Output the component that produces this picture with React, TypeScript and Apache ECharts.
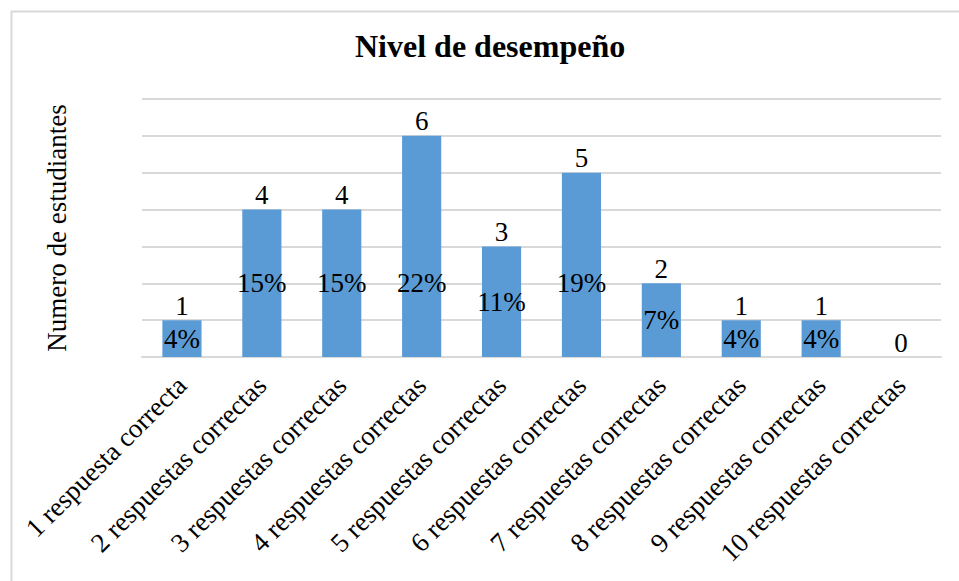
import React, { useEffect, useRef } from "react";
import * as echarts from "echarts";

// Chart data
const categories = [
  "1 respuesta correcta",
  "2 respuestas correctas",
  "3 respuestas correctas",
  "4 respuestas correctas",
  "5 respuestas correctas",
  "6 respuestas correctas",
  "7 respuestas correctas",
  "8 respuestas correctas",
  "9 respuestas correctas",
  "10 respuestas correctas",
];
const students = [1, 4, 4, 6, 3, 5, 2, 1, 1, 0];
const yTicks = [0, 1, 2, 3, 4, 5, 6, 7];

const titleText = "Nivel de desempeño";
const yAxisName = "Numero de estudiantes";

const FONT = "'Liberation Serif', 'Times New Roman', serif";
const BAR_COLOR = "#5B9BD5";
const GRID_COLOR = "#d9d9d9";

export default function App() {
  const ref = useRef<HTMLDivElement>(null);

  useEffect(() => {
    if (!ref.current) return;
    const chart = echarts.init(ref.current, undefined, { renderer: "svg" });
    const total = students.reduce((a, b) => a + b, 0);

    // percentage labels sit at the middle of the bar, no higher than the 2 line
    const pctData = students.map((v) => {
      const frac = v > 0 ? 1 - Math.min(v, 4) / (2 * v) : 0.5;
      return {
        value: v,
        label: {
          position: ["50%", `${(frac * 100).toFixed(2)}%`],
        },
      };
    });

    chart.setOption({
      animation: false,
      backgroundColor: "#ffffff",
      title: {
        text: titleText,
        left: 355,
        top: 30,
        padding: 0,
        textStyle: {
          fontFamily: FONT,
          fontWeight: "bold",
          fontSize: 32,
          color: "#000000",
        },
      },
      graphic: [
        {
          type: "rect",
          left: 9,
          top: 9,
          shape: { x: 0, y: 0, width: 980, height: 600 },
          style: { fill: "none", stroke: GRID_COLOR, lineWidth: 2 },
          silent: true,
        },
      ],
      grid: {
        left: 142,
        right: 18,
        top: 99,
        bottom: 224,
        containLabel: false,
      },
      xAxis: {
        type: "category",
        data: categories,
        axisLine: { show: true, lineStyle: { color: GRID_COLOR, width: 2 } },
        axisTick: { show: false },
        axisLabel: {
          rotate: 45,
          interval: 0,
          margin: 24,
          fontFamily: FONT,
          fontSize: 27,
          color: "#000000",
        },
      },
      yAxis: {
        type: "value",
        min: yTicks[0],
        max: yTicks[yTicks.length - 1],
        interval: 1,
        name: yAxisName,
        nameLocation: "middle",
        nameGap: 72,
        nameTextStyle: {
          fontFamily: FONT,
          fontSize: 27,
          color: "#000000",
        },
        axisLine: { show: false },
        axisTick: { show: false },
        axisLabel: { show: false },
        splitLine: { show: true, lineStyle: { color: GRID_COLOR, width: 2 } },
      },
      series: [
        {
          type: "bar",
          data: students,
          barCategoryGap: "51%",
          itemStyle: { color: BAR_COLOR },
          label: {
            show: true,
            position: "top",
            distance: 1,
            fontFamily: FONT,
            fontSize: 27,
            color: "#000000",
          },
        },
        {
          type: "bar",
          data: pctData,
          barGap: "-100%",
          barCategoryGap: "51%",
          itemStyle: { color: "transparent" },
          silent: true,
          label: {
            show: true,
            align: "center",
            verticalAlign: "middle",
            fontFamily: FONT,
            fontSize: 27,
            color: "#000000",
            formatter: (p: any) =>
              p.value > 0 ? `${Math.round((p.value / total) * 100)}%` : "",
          },
        },
      ],
    });

    return () => chart.dispose();
  }, []);

  return (
    <div
      ref={ref}
      style={{ position: "fixed", left: 0, top: 0, width: 959, height: 581 }}
    />
  );
}
